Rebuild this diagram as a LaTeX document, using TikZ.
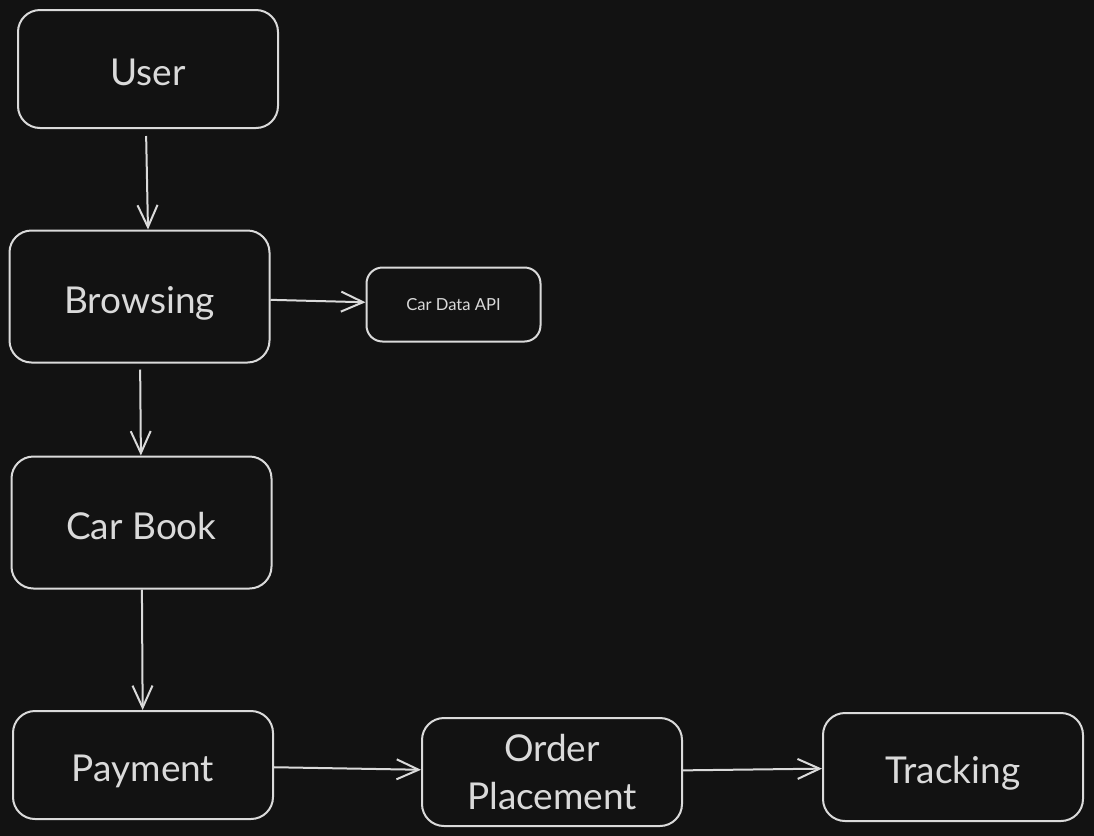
\documentclass[tikz,border=0pt]{standalone}
\usepackage{fontspec}
\setmainfont{Lato}
\usetikzlibrary{arrows.meta}
\definecolor{canvas}{HTML}{121212}
\definecolor{ink}{HTML}{DADADA}
\tikzset{
	stage/.style={draw=ink,line width=1pt,rounded corners=11pt,text=ink,align=center,minimum width=130pt,minimum height=60pt,inner sep=0pt,font=\fontsize{18.5}{24}\selectfont},%
	oneline/.style={text height=19pt,text depth=2.5pt},%
	service/.style={stage,minimum width=87pt,minimum height=37pt,rounded corners=8pt,font=\fontsize{8.3}{10}\selectfont},%
	flow/.style={draw=ink,line width=1pt,-{Straight Barb[length=11pt,width=10pt,line width=1pt]}},%
}

\begin{document}
\begin{tikzpicture}[%
		x=0.5pt,y=-0.5pt,%
		]
		\fill[canvas] (0,0) rectangle (1094,836);
		\useasboundingbox (0,0) rectangle (1094,836);
		\node[stage,oneline,minimum height=59pt] (user) at (148,69) {User};
		\node[stage,oneline,minimum height=66pt] (browsing) at (139.5,296.5) {Browsing};
		\node[service] (carapi) at (453.5,304.5) {Car Data API};
		\node[stage,oneline,minimum height=66pt] (carbook) at (141.5,522.5) {Car Book};
		\node[stage,oneline,minimum height=54pt] (payment) at (143,765) {Payment};
		\node[stage,minimum height=54pt] (order) at (552,772) {Order\\Placement};
		\node[stage,oneline,minimum height=54pt] (tracking) at (953,767) {Tracking};
		\draw[flow,shorten <=3.5pt] (user.south) ++(-2,0) -- (browsing.north -| user.south);
		\draw[flow] (browsing) -- (carapi);
		\draw[flow,shorten <=3pt] (browsing) -- (carbook);
		\draw[flow] (carbook) -- (payment);
		\draw[flow] (payment) -- (order);
		\draw[flow] (order) -- (tracking);
	\end{tikzpicture}
\end{document}
